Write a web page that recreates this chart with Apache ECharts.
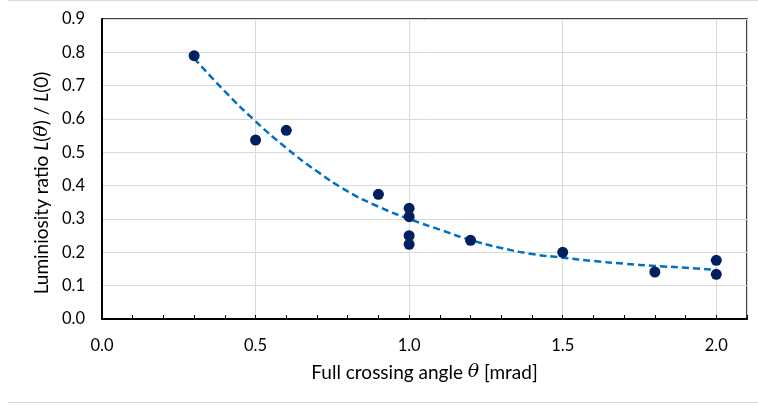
<!DOCTYPE html>
<html>
<head>
<meta charset="utf-8">
<script src="https://cdn.jsdelivr.net/npm/echarts@6/dist/echarts.min.js"></script>
<style>
  html, body { margin: 0; padding: 0; background: #fff; }
  #chart { width: 758px; height: 406px; }
</style>
</head>
<body>
<div id="chart"></div>
<script>
// measured points: crossing angle [mrad] vs luminosity ratio
const angles = [0.3, 0.5, 0.6, 0.9, 1.0, 1.0, 1.0, 1.0, 1.2, 1.5, 1.8, 2.0, 2.0];
const ratios = [0.79, 0.537, 0.566, 0.374, 0.332, 0.307, 0.25, 0.224, 0.236, 0.2, 0.141, 0.176, 0.134];

// dashed trend line
const trendX = [0.3, 0.4, 0.5, 0.6, 0.7, 0.8, 0.9, 1.0, 1.1, 1.2, 1.3, 1.4, 1.5, 1.6, 1.7, 1.8, 1.9, 2.0];
const trendY = [0.782, 0.683, 0.593, 0.513, 0.443, 0.383, 0.337, 0.3, 0.268, 0.237, 0.213, 0.195, 0.184, 0.174, 0.166, 0.159, 0.154, 0.147];

const yTicks = [0, 0.1, 0.2, 0.3, 0.4, 0.5, 0.6, 0.7, 0.8, 0.9];
const xLabelStep = 0.5;

const font = 'Lato';
const mathFont = 'DejaVu Serif';

const chart = echarts.init(document.getElementById('chart'));

chart.setOption({
  animation: false,
  grid: {
    left: 102, top: 19, right: 11, bottom: 87,
    show: true, borderColor: '#000', borderWidth: 1.5
  },
  xAxis: [{
    type: 'value',
    min: 0, max: 2.1, interval: 0.1,
    axisLine: { show: true, onZero: false, lineStyle: { color: '#000', width: 2 } },
    axisTick: { show: true, inside: true, length: 4, lineStyle: { color: '#000', width: 1 } },
    axisLabel: {
      margin: 18, color: '#000', fontFamily: font, fontSize: 16.5,
      formatter: v => (Math.round(v * 10) % 5 === 0 && v < 2.05) ? v.toFixed(1) : ''
    },
    splitLine: { show: false },
    name: '{t|Full crossing angle }{m|θ}{t| [mrad]}',
    nameLocation: 'middle',
    nameGap: 44,
    nameTextStyle: {
      rich: {
        t: { fontFamily: font, fontSize: 19, color: '#000' },
        m: { fontFamily: mathFont, fontStyle: 'italic', fontSize: 19, color: '#000' }
      }
    }
  }, {
    type: 'value',
    min: 0, max: 2.1, interval: xLabelStep,
    position: 'bottom',
    axisLine: { show: false },
    axisTick: { show: false },
    axisLabel: { show: false },
    splitLine: { show: true, lineStyle: { color: '#d9d9d9', width: 1 } }
  }],
  yAxis: {
    type: 'value',
    min: yTicks[0], max: yTicks[yTicks.length - 1], interval: 0.1,
    axisLine: { show: true, lineStyle: { color: '#000', width: 2 } },
    axisTick: { show: false },
    axisLabel: {
      margin: 17, color: '#000', fontFamily: font, fontSize: 16.5,
      formatter: v => v.toFixed(1)
    },
    splitLine: { show: true, lineStyle: { color: '#d9d9d9', width: 1 } },
    name: '{t|Luminiosity ratio }{i|L}{t|(}{m|θ}{t|) / }{i|L}{t|(0)}',
    nameLocation: 'middle',
    nameGap: 40,
    nameTextStyle: {
      padding: [0, 28, 0, 0],
      rich: {
        t: { fontFamily: font, fontSize: 19, color: '#000' },
        i: { fontFamily: font, fontStyle: 'italic', fontSize: 19, color: '#000' },
        m: { fontFamily: mathFont, fontStyle: 'italic', fontSize: 19, color: '#000' }
      }
    }
  },
  series: [{
    type: 'line',
    data: trendX.map((x, i) => [x, trendY[i]]),
    smooth: true,
    showSymbol: false,
    lineStyle: { color: '#0070c0', width: 2.5, type: [7, 4] },
    z: 2
  }, {
    type: 'scatter',
    data: angles.map((x, i) => [x, ratios[i]]),
    symbolSize: 11,
    itemStyle: { color: '#002060', opacity: 1 },
    z: 3
  }],
  graphic: [
    { type: 'line', shape: { x1: 8, y1: 0.5, x2: 758, y2: 0.5 }, style: { stroke: '#d9d9d9', lineWidth: 1 } },
    { type: 'line', shape: { x1: 8, y1: 402.5, x2: 758, y2: 402.5 }, style: { stroke: '#d9d9d9', lineWidth: 1 } }
  ]
});
</script>
</body>
</html>
